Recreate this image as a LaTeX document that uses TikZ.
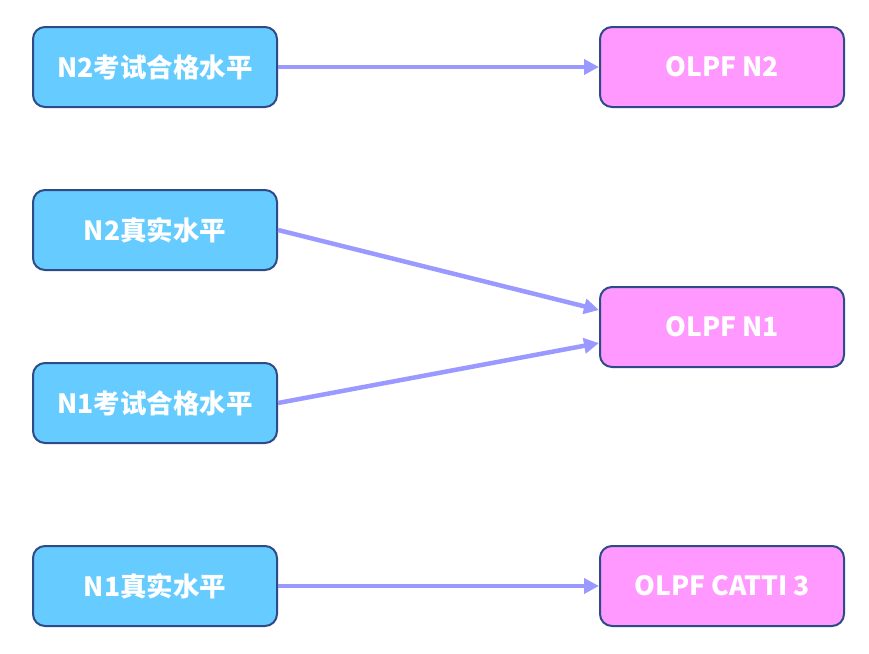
\documentclass[tikz,border=0pt]{standalone}
\usepackage{fontspec}
\setmainfont{Noto Sans CJK SC}
\usetikzlibrary{arrows.meta}
\definecolor{bluefill}{HTML}{66CCFF}
\definecolor{pinkfill}{HTML}{FF99FF}
\definecolor{edgeblue}{HTML}{2E4A87}
\definecolor{arrowc}{HTML}{9999FF}
\begin{document}
\begin{tikzpicture}[x=1pt,y=-1pt,
  box/.style={draw=edgeblue, line width=2pt, rounded corners=12pt, minimum width=244pt, minimum height=80pt, inner sep=0pt, text=white, font=\fontsize{26.5}{30}\selectfont\bfseries},
  lbox/.style={box, fill=bluefill},
  rbox/.style={box, fill=pinkfill},
  conn/.style={draw=arrowc, line width=4.5pt, -{Triangle[length=15pt,width=15pt]}, shorten >=0pt}]
\useasboundingbox (0,0) rectangle (869,653);
\node[lbox] (a) at (155,67) {N2考试合格水平};
\node[lbox] (b) at (155,230) {N2真实水平};
\node[lbox] (c) at (155,403) {N1考试合格水平};
\node[lbox] (d) at (155,586) {N1真实水平};
\node[rbox] (p) at (722,67) {OLPF N2};
\node[rbox] (q) at (722,327) {OLPF N1};
\node[rbox] (r) at (722,586) {OLPF CATTI 3};
\draw[conn] (a.east) -- (p.west);
\draw[conn] (b.east) -- ([yshift=17pt]q.west);
\draw[conn] (c.east) -- ([yshift=-16pt]q.west);
\draw[conn] (d.east) -- (r.west);
\end{tikzpicture}
\end{document}
